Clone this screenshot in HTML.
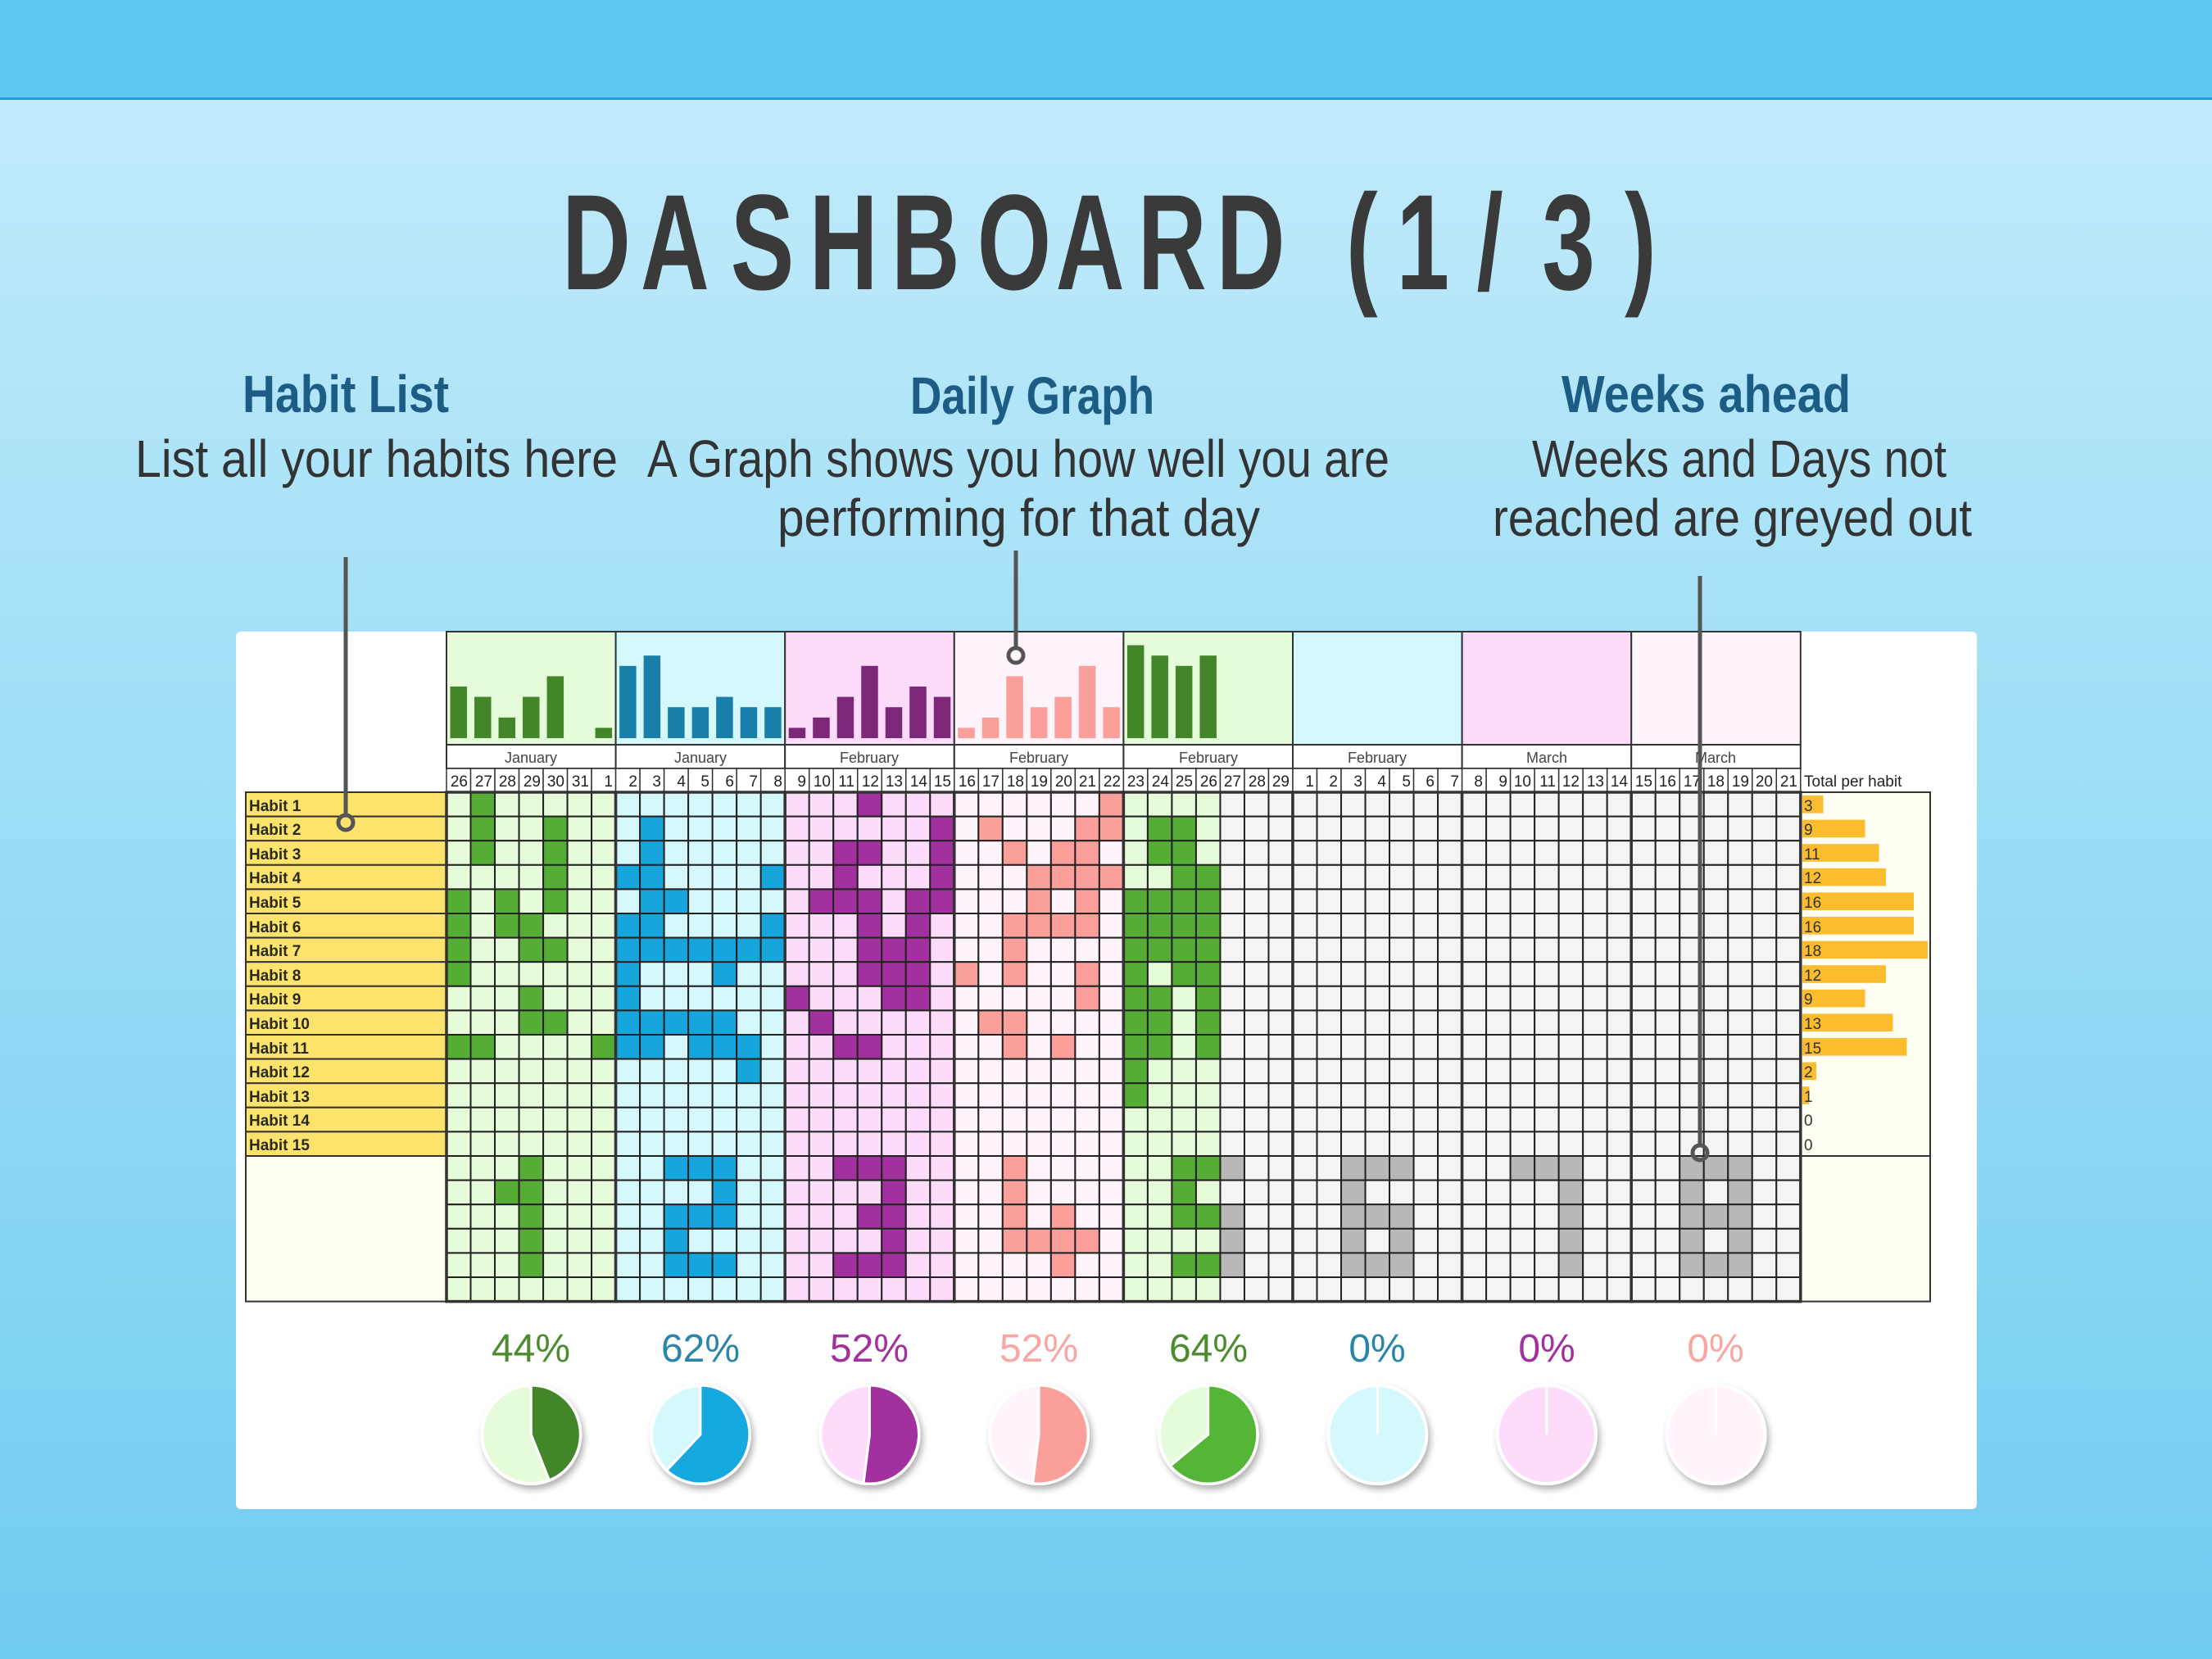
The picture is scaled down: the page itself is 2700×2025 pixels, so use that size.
<!DOCTYPE html>
<html><head><meta charset="utf-8">
<style>
html,body{margin:0;padding:0;width:2700px;height:2025px;overflow:hidden;}
svg{display:block;}
.t{font-family:"Liberation Sans Narrow","Liberation Sans",sans-serif;}
.s{font-family:"Liberation Sans",sans-serif;}
</style></head>
<body>
<svg id="svg" width="2700" height="2025" viewBox="0 0 2700 2025" xmlns="http://www.w3.org/2000/svg">
<defs>
<linearGradient id="bg" x1="0" y1="0" x2="0" y2="1">
<stop offset="0" stop-color="#c6edfb"/><stop offset="1" stop-color="#70ccf0"/>
</linearGradient>
<filter id="sh" x="-30%" y="-30%" width="160%" height="160%"><feDropShadow dx="3" dy="5" stdDeviation="4" flood-color="#000" flood-opacity="0.3"/></filter>
</defs>
<rect x="0" y="0" width="2700" height="2025" fill="url(#bg)"/>
<rect x="0" y="0" width="2700" height="120" fill="#5fc8f2"/>
<rect x="0" y="119" width="2700" height="3" fill="#2a9ad2"/>

<g transform="scale(0.7,1)">
<text class="s" y="353" font-size="166" font-weight="bold" fill="#3a3a3a" x="980 1117 1274 1411 1554 1704 1841 1984 2121 2347 2435 2575 2689 2833">DASHBOARD(1/3)</text>
</g>

<g class="t" font-weight="bold" fill="#1d5c85" font-size="64">
<text x="296" y="503" textLength="252" lengthAdjust="spacingAndGlyphs">Habit List</text>
<text x="1111" y="505" textLength="298" lengthAdjust="spacingAndGlyphs">Daily Graph</text>
<text x="1906" y="503" textLength="353" lengthAdjust="spacingAndGlyphs">Weeks ahead</text>
</g>
<g class="t" fill="#333" font-size="64">
<text x="165" y="582" textLength="589" lengthAdjust="spacingAndGlyphs">List all your habits here</text>
<text x="790" y="582" textLength="906" lengthAdjust="spacingAndGlyphs">A Graph shows you how well you are</text>
<text x="949" y="654" textLength="589" lengthAdjust="spacingAndGlyphs">performing for that day</text>
<text x="1870" y="582" textLength="506" lengthAdjust="spacingAndGlyphs">Weeks and Days not</text>
<text x="1822" y="654" textLength="585" lengthAdjust="spacingAndGlyphs">reached are greyed out</text>
</g>

<rect x="288" y="771" width="2125" height="1071" rx="6" fill="#ffffff"/>
<g id="grid"></g>

<g class="s" font-size="18" fill="#444" text-anchor="middle">
<text x="648" y="931">January</text>
<text x="855" y="931">January</text>
<text x="1061" y="931">February</text>
<text x="1268" y="931">February</text>
<text x="1475" y="931">February</text>
<text x="1681" y="931">February</text>
<text x="1888" y="931">March</text>
<text x="2094" y="931">March</text>
</g>
<g id="days" class="s" font-size="19" fill="#222" text-anchor="end">
<text x="571" y="960">26</text><text x="601" y="960">27</text><text x="630" y="960">28</text><text x="660" y="960">29</text><text x="689" y="960">30</text><text x="719" y="960">31</text><text x="748" y="960">1</text>
<text x="778" y="960">2</text><text x="807" y="960">3</text><text x="837" y="960">4</text><text x="866" y="960">5</text><text x="896" y="960">6</text><text x="925" y="960">7</text><text x="955" y="960">8</text>
<text x="984" y="960">9</text><text x="1014" y="960">10</text><text x="1043" y="960">11</text><text x="1073" y="960">12</text><text x="1102" y="960">13</text><text x="1132" y="960">14</text><text x="1161" y="960">15</text>
<text x="1191" y="960">16</text><text x="1220" y="960">17</text><text x="1250" y="960">18</text><text x="1279" y="960">19</text><text x="1309" y="960">20</text><text x="1338" y="960">21</text><text x="1368" y="960">22</text>
<text x="1397" y="960">23</text><text x="1427" y="960">24</text><text x="1456" y="960">25</text><text x="1486" y="960">26</text><text x="1515" y="960">27</text><text x="1545" y="960">28</text><text x="1574" y="960">29</text>
<text x="1604" y="960">1</text><text x="1633" y="960">2</text><text x="1663" y="960">3</text><text x="1692" y="960">4</text><text x="1722" y="960">5</text><text x="1751" y="960">6</text><text x="1781" y="960">7</text>
<text x="1810" y="960">8</text><text x="1840" y="960">9</text><text x="1869" y="960">10</text><text x="1899" y="960">11</text><text x="1928" y="960">12</text><text x="1958" y="960">13</text><text x="1987" y="960">14</text>
<text x="2017" y="960">15</text><text x="2046" y="960">16</text><text x="2076" y="960">17</text><text x="2105" y="960">18</text><text x="2135" y="960">19</text><text x="2164" y="960">20</text><text x="2194" y="960">21</text>
</g>
<text class="s" x="2202" y="960" font-size="19" fill="#222">Total per habit</text>

<g class="s" font-size="19" font-weight="bold" fill="#2a2a1a">
<text x="304" y="990">Habit 1</text><text x="304" y="1019">Habit 2</text><text x="304" y="1049">Habit 3</text>
<text x="304" y="1078">Habit 4</text><text x="304" y="1108">Habit 5</text><text x="304" y="1138">Habit 6</text>
<text x="304" y="1167">Habit 7</text><text x="304" y="1197">Habit 8</text><text x="304" y="1226">Habit 9</text>
<text x="304" y="1256">Habit 10</text><text x="304" y="1286">Habit 11</text><text x="304" y="1315">Habit 12</text>
<text x="304" y="1345">Habit 13</text><text x="304" y="1374">Habit 14</text><text x="304" y="1404">Habit 15</text>
</g>
<g class="s" font-size="19" fill="#333">
<text x="2202" y="990">3</text><text x="2202" y="1019">9</text><text x="2202" y="1049">11</text>
<text x="2202" y="1078">12</text><text x="2202" y="1108">16</text><text x="2202" y="1138">16</text>
<text x="2202" y="1167">18</text><text x="2202" y="1197">12</text><text x="2202" y="1226">9</text>
<text x="2202" y="1256">13</text><text x="2202" y="1286">15</text><text x="2202" y="1315">2</text>
<text x="2202" y="1345">1</text><text x="2202" y="1374">0</text><text x="2202" y="1404">0</text>
</g>

<g id="pies"></g>
<g class="s" font-size="48" text-anchor="middle">
<text x="648" y="1662" fill="#4a8c2e">44%</text>
<text x="855" y="1662" fill="#2a86a8">62%</text>
<text x="1061" y="1662" fill="#a3309f">52%</text>
<text x="1268" y="1662" fill="#f9a6a3">52%</text>
<text x="1475" y="1662" fill="#4a8c2e">64%</text>
<text x="1681" y="1662" fill="#2a86a8">0%</text>
<text x="1888" y="1662" fill="#a3309f">0%</text>
<text x="2094" y="1662" fill="#f9a6a3">0%</text>
</g>

<g stroke="#555" stroke-width="5" fill="none">
<line x1="422" y1="680" x2="422" y2="995"/><circle cx="422" cy="1004" r="9"/>
<line x1="1240" y1="672" x2="1240" y2="791"/><circle cx="1240" cy="800" r="9"/>
<line x1="2075" y1="703" x2="2075" y2="1398"/><circle cx="2075" cy="1407" r="9"/>
</g>
</svg>
<script>
const NS="http://www.w3.org/2000/svg";
const g=document.getElementById('grid'), pg=document.getElementById('pies');
function R(p,x,y,w,h,f,s,sw){const r=document.createElementNS(NS,'rect');r.setAttribute('x',x);r.setAttribute('y',y);r.setAttribute('width',w);r.setAttribute('height',h);r.setAttribute('fill',f);if(s){r.setAttribute('stroke',s);r.setAttribute('stroke-width',sw||2);}p.appendChild(r);}
const X0=545,WW=206.6,CW=WW/7,Y0=967,RH=29.6;
const hdr=['#e6fbd9','#d5f8fc','#fddcfb','#fff4fc','#e6fbd9','#d5f8fc','#fddcfb','#fff4fc'];
const cellc=['#55ad35','#17a6dc','#a3309f','#fb9f9b','#55ad35'];
const barc=['#43862a','#1a7fa8','#7c2777','#fb9f9b','#43862a'];
const W=[
[[1],[1,4],[1,4],[4],[0,2,4],[0,2,3],[0,3,4],[0],[3],[3,4],[0,1,6],[],[],[],[], [3],[2,3],[3],[3],[3],[]],
[[],[1],[1],[0,1,6],[1,2],[0,1,6],[0,1,2,3,4,5,6],[0,4],[0],[0,1,2,3,4],[0,1,3,4,5],[5],[],[],[], [2,3,4],[4],[2,3,4],[2],[2,3,4],[]],
[[3],[6],[2,3,6],[2,6],[1,2,3,5,6],[3,5],[3,4,5],[3,4,5],[0,4,5],[1],[2,3],[],[],[],[], [2,3,4],[4],[3,4],[4],[2,3,4],[]],
[[6],[1,5,6],[2,4,5],[3,4,5,6],[3,5],[2,3,4,5],[2],[0,2,5],[5],[1,2],[2,4],[],[],[],[], [2],[2],[2,4],[2,3,4,5],[4],[]],
[[],[1,2],[1,2],[2,3],[0,1,2,3],[0,1,2,3],[0,1,2,3],[0,2,3],[0,1,3],[0,1,3],[0,1,3],[0],[0],[],[], [2,3,4],[2],[2,3,4],[4],[2,3,4],[]],
[[],[],[],[],[],[],[],[],[],[],[],[],[],[],[], [2,3,4],[2],[2,3,4],[2,4],[2,3,4],[]],
[[],[],[],[],[],[],[],[],[],[],[],[],[],[],[], [2,3,4],[4],[4],[4],[4],[]],
[[],[],[],[],[],[],[],[],[],[],[],[],[],[],[], [2,3,4],[2,4],[2,3,4],[2,4],[2,3,4],[]]
];
for(let r=0;r<15;r++)R(g,300,Y0+r*RH,245,RH,'#fde36c','#333',2);
R(g,300,Y0+15*RH,245,6*RH,'#fffef3','#333',2);
R(g,2198,Y0,158,15*RH,'#fffef3','#333',2);
R(g,2198,Y0+15*RH,158,6*RH,'#fffef3','#333',2);
const tot=[3,9,11,12,16,16,18,12,9,13,15,2,1,0,0];
tot.forEach((v,r)=>{if(v)R(g,2200,Y0+r*RH+4,v*8.5,RH-8,'#fbbd2e');});
for(let k=0;k<8;k++){
 const x=X0+k*WW;
 R(g,x,771,WW,138,hdr[k],'#333',2);
 R(g,x,909,WW,29,'#fff','#333',2);
 for(let c=0;c<7;c++) R(g,x+c*CW,938,CW,29,'#fff','#333',1.5);
 const cnt=[0,0,0,0,0,0,0];
 for(let r=0;r<21;r++){
  for(let c=0;c<7;c++){
   const on=W[k][r].includes(c);
   let f;
   const grey=(k>=5)||(k==4&&c>=4);
   if(on){ f=grey?'#b8b8b8':cellc[k]; if(r<15)cnt[c]++; }
   else f=grey?'#f4f4f4':hdr[k];
   R(g,x+c*CW,Y0+r*RH,CW,RH,f,'#222',2);
  }
 }
 if(k<5){for(let c=0;c<7;c++){if(cnt[c])R(g,x+c*CW+4.5,901-cnt[c]*12.6,20.5,cnt[c]*12.6,barc[k]);}}
 const fr=document.createElementNS(NS,'rect');fr.setAttribute('x',x);fr.setAttribute('y',Y0);fr.setAttribute('width',WW);fr.setAttribute('height',21*RH);fr.setAttribute('fill','none');fr.setAttribute('stroke','#333');fr.setAttribute('stroke-width',3.5);g.appendChild(fr);
}
const pct=[0.44,0.62,0.52,0.52,0.64,0,0,0];
const pc=['#43862a','#15a9e0','#a3309f','#fb9f9b','#55b536','#15a9e0','#a3309f','#fb9f9b'];
for(let k=0;k<8;k++){
 const cx=X0+k*WW+WW/2, cy=1751, r=60;
 const c=document.createElementNS(NS,'circle');c.setAttribute('cx',cx);c.setAttribute('cy',cy);c.setAttribute('r',r);c.setAttribute('fill',hdr[k]);c.setAttribute('stroke','#fff');c.setAttribute('stroke-width',4);c.setAttribute('filter','url(#sh)');pg.appendChild(c);
 const p=pct[k];
 if(p>0){
  const a=2*Math.PI*p, ex=cx+r*Math.sin(a), ey=cy-r*Math.cos(a);
  const pa=document.createElementNS(NS,'path');
  pa.setAttribute('d',`M${cx},${cy} L${cx},${cy-r} A${r},${r} 0 ${p>0.5?1:0} 1 ${ex},${ey} Z`);
  pa.setAttribute('fill',pc[k]);pa.setAttribute('stroke','#fff');pa.setAttribute('stroke-width',3);pg.appendChild(pa);
 } else {
  const l=document.createElementNS(NS,'line');l.setAttribute('x1',cx);l.setAttribute('y1',cy);l.setAttribute('x2',cx);l.setAttribute('y2',cy-r);l.setAttribute('stroke','#ffffff');l.setAttribute('stroke-width',3);pg.appendChild(l);
 }
}
</script>
</body></html>
